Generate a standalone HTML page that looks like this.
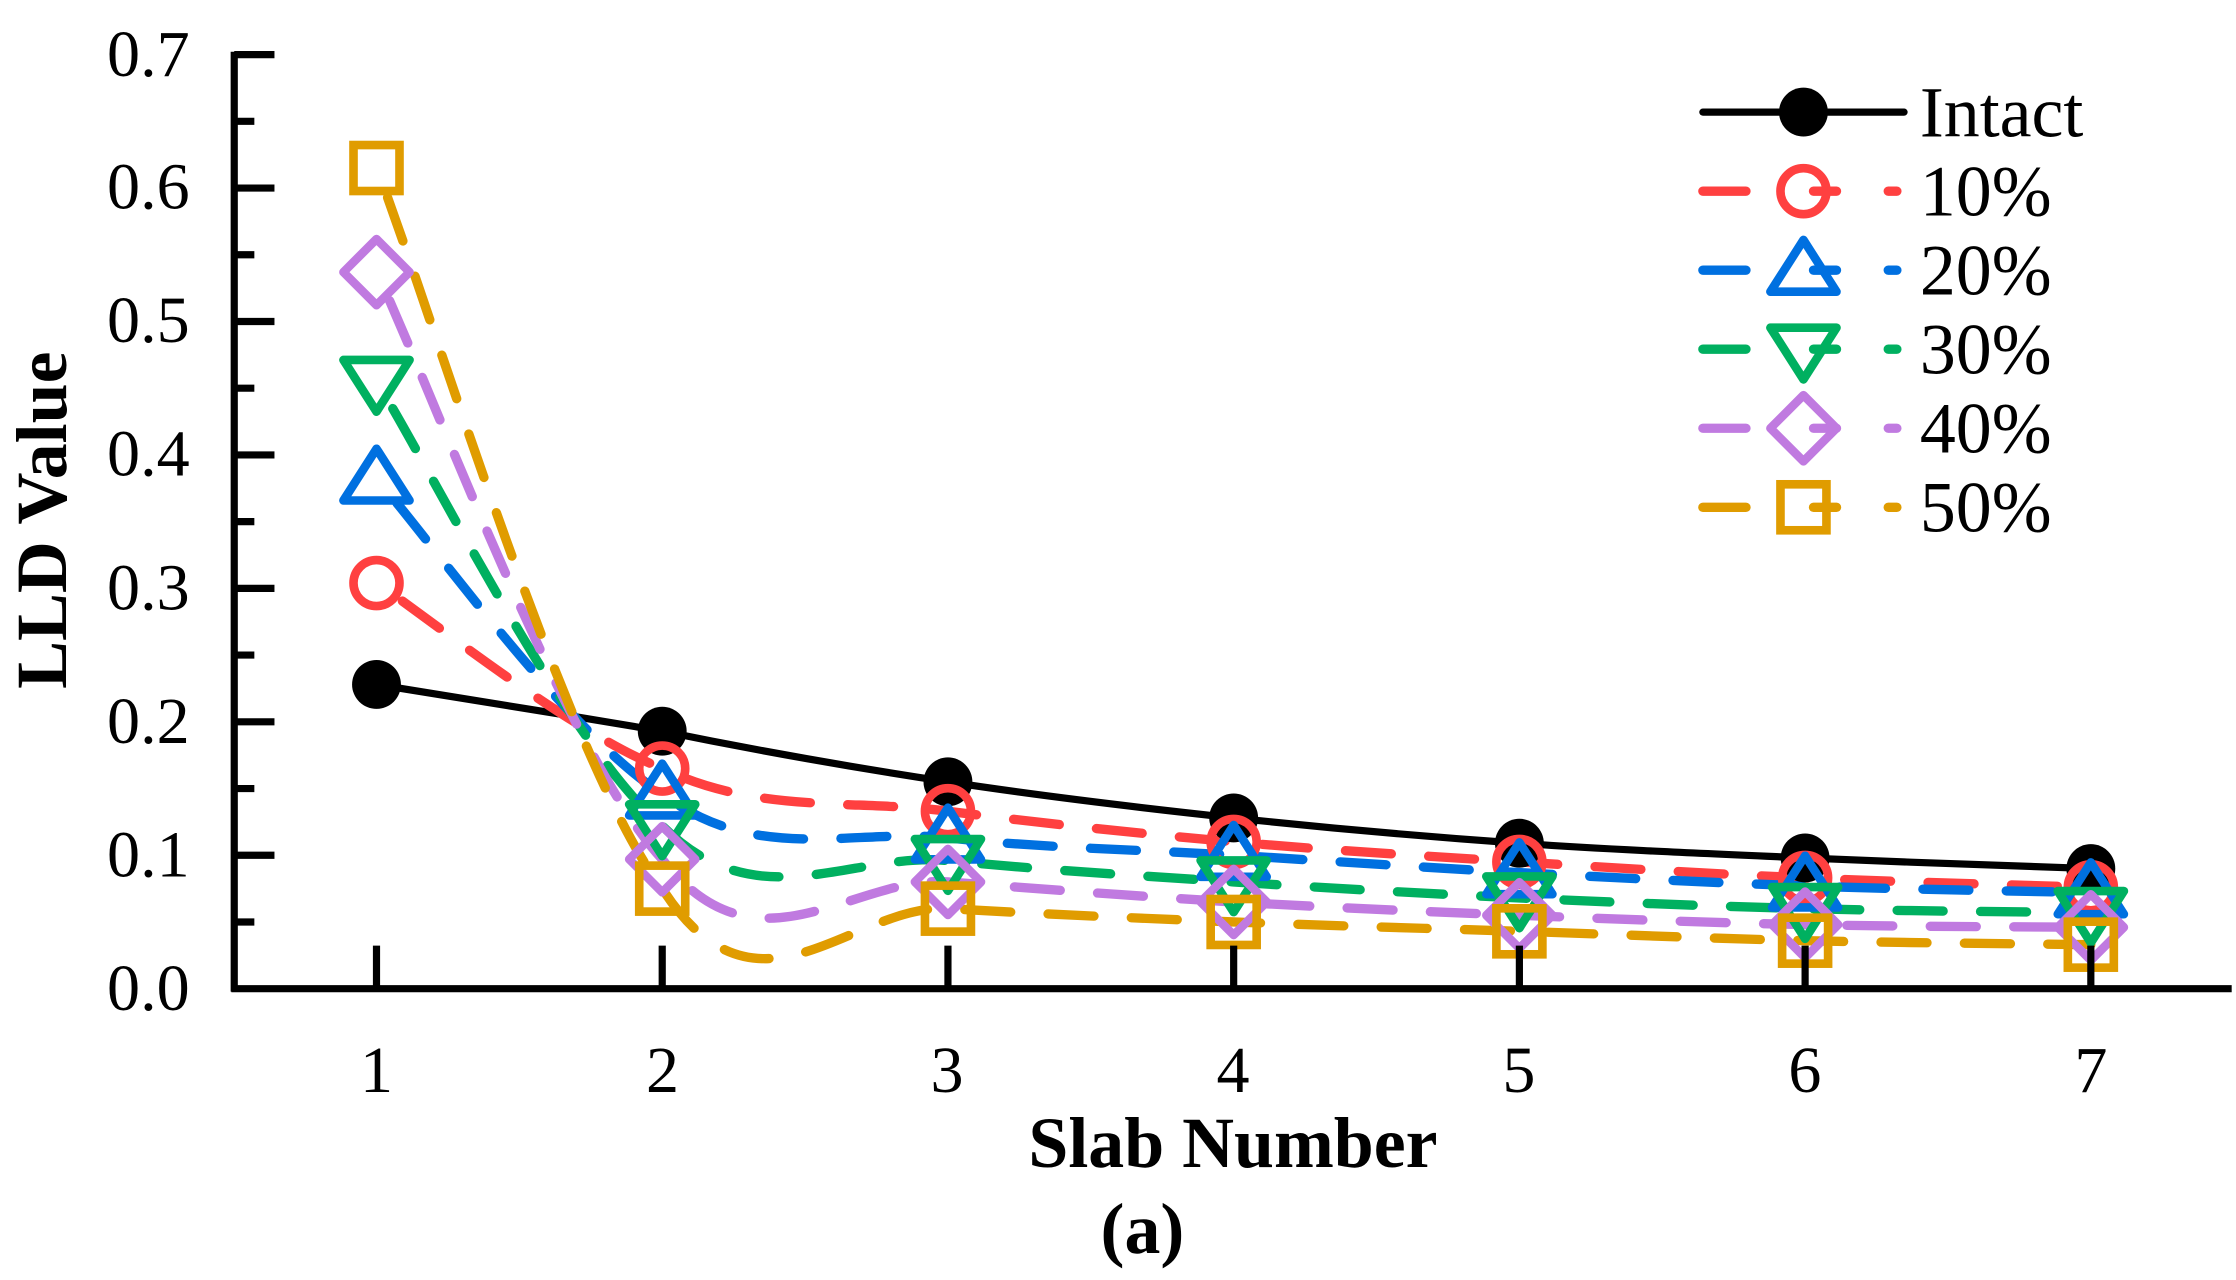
<!DOCTYPE html>
<html><head><meta charset="utf-8"><style>
html,body{margin:0;padding:0;background:#fff}
svg{display:block}
text{font-family:"Liberation Serif",serif;fill:#000}
</style></head><body>
<svg id="s" width="2236" height="1280" viewBox="0 0 1556 890.7" xmlns="http://www.w3.org/2000/svg">
<g id="series"></g>
<g stroke="#000" stroke-width="5" fill="none">
<line x1="163" y1="36" x2="163" y2="690"/>
<line x1="161" y1="688" x2="1553" y2="688"/>
<g id="ticks"></g>
</g>
<g font-size="46" text-anchor="end">
<text x="132" y="703">0.0</text><text x="132" y="610">0.1</text><text x="132" y="517">0.2</text>
<text x="132" y="424">0.3</text><text x="132" y="331">0.4</text><text x="132" y="238">0.5</text>
<text x="132" y="145">0.6</text><text x="132" y="53">0.7</text>
</g>
<g font-size="46" text-anchor="middle">
<text x="262" y="760">1</text><text x="461" y="760">2</text><text x="659" y="760">3</text>
<text x="858" y="760">4</text><text x="1057" y="760">5</text><text x="1256" y="760">6</text><text x="1455" y="760">7</text>
</g>
<text x="858" y="812" font-size="50" font-weight="bold" text-anchor="middle">Slab Number</text>
<text x="795" y="872" font-size="50" font-weight="bold" text-anchor="middle">(a)</text>
<text transform="translate(46,362) rotate(-90)" font-size="50" font-weight="bold" text-anchor="middle">LLD Value</text>
<g id="legend"></g>
<g font-size="50">
<text x="1336" y="95">Intact</text><text x="1336" y="150">10%</text><text x="1336" y="205">20%</text>
<text x="1336" y="260">30%</text><text x="1336" y="315">40%</text><text x="1336" y="370">50%</text>
</g>
</svg>
<script>
var NS="http://www.w3.org/2000/svg";
function X(i){return 262+(i)*198.83;}
function Y(v){return 688-v*928.6;}
function el(p,n,a){var e=document.createElementNS(NS,n);for(var k in a)e.setAttribute(k,a[k]);p.appendChild(e);return e;}
var tk=document.getElementById('ticks');
for(var i=1;i<=14;i++){var y=Y(i*0.05);el(tk,'line',{x1:163,x2:(i%2==0?191:177),y1:y,y2:y});}
for(var i=0;i<7;i++){el(tk,'line',{x1:X(i),x2:X(i),y1:688,y2:658});}
var S=[
{c:"#000",m:"dot",d:[0.228,0.193,0.155,0.128,0.109,0.098,0.090]},
{c:"#ff4040",m:"circ",d:[0.304,0.165,0.133,0.110,0.095,0.083,0.076]},
{c:"#0070e0",m:"tri",d:[0.382,0.146,0.113,0.100,0.087,0.077,0.072]},
{c:"#00b060",m:"itri",d:[0.455,0.122,0.096,0.080,0.068,0.060,0.057]},
{c:"#c07ae0",m:"dia",d:[0.537,0.097,0.080,0.065,0.055,0.048,0.046]},
{c:"#e09c00",m:"sq",d:[0.615,0.075,0.060,0.050,0.043,0.036,0.033]}];
var g=document.getElementById('series');
function marker(p,type,c,x,y){
 var sw=6;
 if(type=="dot")el(p,'circle',{cx:x,cy:y,r:17,fill:"#000"});
 else if(type=="circ")el(p,'circle',{cx:x,cy:y,r:16,fill:"none",stroke:c,"stroke-width":sw});
 else if(type=="tri")el(p,'polygon',{points:(x)+","+(y-21)+" "+(x-23)+","+(y+15)+" "+(x+23)+","+(y+15),fill:"none",stroke:c,"stroke-width":sw,"stroke-linejoin":"round"});
 else if(type=="itri")el(p,'polygon',{points:(x)+","+(y+21)+" "+(x-23)+","+(y-15)+" "+(x+23)+","+(y-15),fill:"none",stroke:c,"stroke-width":sw,"stroke-linejoin":"round"});
 else if(type=="dia")el(p,'polygon',{points:(x)+","+(y-23)+" "+(x+23)+","+y+" "+(x)+","+(y+23)+" "+(x-23)+","+y,fill:"none",stroke:c,"stroke-width":sw,"stroke-linejoin":"round"});
 else if(type=="sq")el(p,'rect',{x:x-16,y:y-16,width:32,height:32,fill:"none",stroke:c,"stroke-width":sw});
}
S.forEach(function(s,si){
 var P=s.d.map(function(v,i){return [X(i),Y(v)];});
 var d="M"+P[0][0]+","+P[0][1];
 for(var i=0;i<6;i++){
  var p0=P[Math.max(i-1,0)],p1=P[i],p2=P[i+1],p3=P[Math.min(i+2,6)];
  var k=(i==1)?5:6;
  var c1=[p1[0]+(p2[0]-p0[0])/6,p1[1]+(p2[1]-p0[1])/k];
  var c2=[p2[0]-(p3[0]-p1[0])/6,p2[1]-(p3[1]-p1[1])/6];
  d+=" C"+c1+" "+c2+" "+p2;
 }
 var a={d:d,fill:"none",stroke:s.c,"stroke-width":si==0?5:6.5,"stroke-linecap":"round"};
 if(si>0){a["stroke-dasharray"]="32 26";a["stroke-dashoffset"]=-22;}
 el(g,'path',a);
});
S.forEach(function(s){s.d.forEach(function(v,i){marker(g,s.m,s.c,X(i),Y(v));});});
var L=document.getElementById('legend');
S.forEach(function(s,i){
 var y=78+i*55;
 if(i==0){el(L,'line',{x1:1185,x2:1325,y1:y,y2:y,stroke:"#000","stroke-width":5,"stroke-linecap":"round"});}
 else{
  el(L,'line',{x1:1185,x2:1215,y1:y,y2:y,stroke:s.c,"stroke-width":6.5,"stroke-linecap":"round"});
  el(L,'line',{x1:1262,x2:1278,y1:y,y2:y,stroke:s.c,"stroke-width":6.5,"stroke-linecap":"round"});
  el(L,'line',{x1:1314,x2:1320,y1:y,y2:y,stroke:s.c,"stroke-width":6.5,"stroke-linecap":"round"});
 }
 marker(L,s.m,s.c,1255,y);
});
</script>
</body></html>
